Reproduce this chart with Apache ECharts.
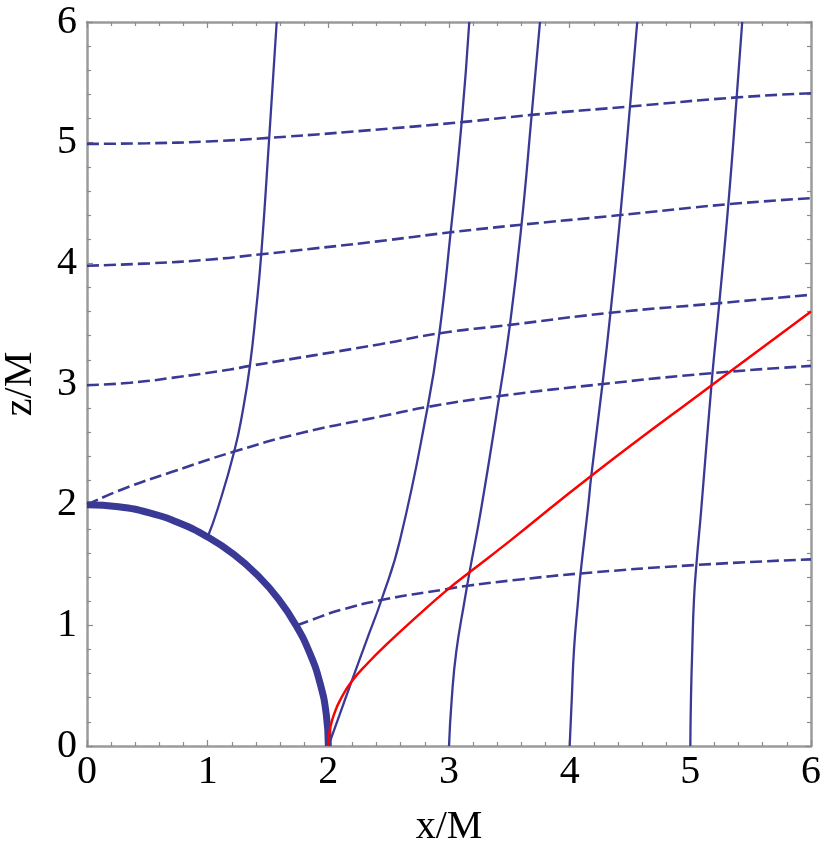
<!DOCTYPE html>
<html>
<head>
<meta charset="utf-8">
<script src="https://cdn.jsdelivr.net/npm/echarts@6/dist/echarts.min.js"></script>
<style>html,body{margin:0;padding:0;background:#fff}#c{width:822px;height:854px}</style>
</head>
<body>
<div id="c"></div>
<script>
// Axis ticks
const xTicks = [0, 1, 2, 3, 4, 5, 6];
const zTicks = [0, 1, 2, 3, 4, 5, 6];

// Horizon (thick arc, radius 2)
const horizon = [[0,2],[0.261,1.983],[0.518,1.932],[0.765,1.848],[1.0,1.732],[1.218,1.587],[1.414,1.414],[1.587,1.218],[1.732,1.0],[1.848,0.765],[1.932,0.518],[1.983,0.261],[2,0]];

// Solid curves
const solidA = [[1.0,1.732],[1.08,1.956],[1.22,2.44],[1.295,2.8],[1.35,3.15],[1.40,3.6],[1.444,4.075],[1.51,5.04],[1.572,6]];
const solidB = [[2,0],[2.09,0.25],[2.18,0.50],[2.318,0.878],[2.44,1.21],[2.594,1.707],[2.823,2.81],[2.92,3.42],[3.014,4.26],[3.105,5.17],[3.168,6]];
const solidC = [[3,0],[3.022,0.38],[3.06,0.78],[3.13,1.21],[3.17,1.44],[3.265,1.956],[3.417,2.90],[3.505,3.49],[3.60,4.31],[3.685,5.23],[3.754,6]];
const solidD = [[4,0],[4.017,0.38],[4.036,0.80],[4.07,1.21],[4.09,1.43],[4.15,1.956],[4.18,2.246],[4.272,3.0],[4.338,3.59],[4.42,4.40],[4.50,5.30],[4.56,6]];
const solidE = [[5,0],[5.005,0.38],[5.016,0.80],[5.03,1.21],[5.05,1.50],[5.09,1.956],[5.18,3.05],[5.24,3.67],[5.315,4.49],[5.384,5.375],[5.43,6]];

// Dashed curves
const dashed1 = [[1.74,1.0],[1.93,1.07],[2.1,1.127],[2.44,1.21],[2.98,1.30],[3.17,1.33],[3.59,1.38],[4.09,1.43],[5.047,1.50],[6,1.547]];
const dashed2 = [[0,2.0],[0.3,2.13],[0.7,2.27],[1.22,2.44],[1.8,2.6],[2.43,2.73],[2.823,2.81],[3.417,2.90],[4.276,3.0],[5.18,3.09],[6,3.15]];
const dashed3 = [[0,2.99],[0.356,3.01],[0.77,3.06],[1.185,3.12],[1.35,3.15],[2.43,3.33],[2.92,3.42],[3.505,3.49],[4.338,3.59],[5.24,3.67],[6,3.74]];
const dashed4 = [[0,3.98],[0.52,4.0],[1.0,4.03],[1.444,4.075],[1.765,4.11],[2.39,4.18],[3.014,4.257],[3.60,4.32],[4.42,4.40],[5.315,4.49],[6,4.54]];
const dashed5 = [[0,4.99],[0.5,4.995],[1.0,5.01],[1.51,5.04],[2.3,5.10],[3.105,5.17],[3.685,5.23],[4.5,5.30],[5.384,5.375],[6,5.41]];

// Red curve
const redCurve = [[2.0,0],[2.005,0.08],[2.02,0.17],[2.05,0.27],[2.1,0.385],[2.19,0.53],[2.33,0.69],[2.48,0.84],[2.73,1.07],[2.98,1.29],[3.17,1.44],[3.505,1.70],[4.18,2.24],[5.177,2.99],[6,3.6]];

const BLUE = '#3a3a96';
const FONT = "'Liberation Serif','Times New Roman',serif";

const chart = echarts.init(document.getElementById('c'), null, {renderer:'canvas'});

function baseAxis(ticks) {
  return {
    type: 'value',
    min: ticks[0], max: ticks[ticks.length-1], interval: ticks[1]-ticks[0],
    axisLine: {show:true, onZero:false, lineStyle:{color:'#9b9b9b', width:2.5}},
    axisTick: {show:true, inside:true, length:6, lineStyle:{color:'#8a8a8a', width:1.2}},
    minorTick: {show:true, splitNumber:5, length:4, lineStyle:{color:'#8a8a8a', width:1.2}},
    splitLine: {show:false},
    minorSplitLine: {show:false}
  };
}

const solidStyle = {color:BLUE, width:2.3};
const dashStyle = {color:BLUE, width:2.6, type:[12,5]};

function line(data, style, z) {
  return {type:'line', data:data, smooth:true, showSymbol:false, symbol:'none',
          lineStyle:style, itemStyle:{color:style.color}, z:z, silent:true, clip:true};
}

const option = {
  animation: false,
  backgroundColor: '#fff',
  grid: {left:87, right:11, top:22, bottom:108, containLabel:false, outerBoundsMode:'none'},
  xAxis: [
    Object.assign(baseAxis(xTicks), {
      position:'bottom',
      axisLabel:{show:true, fontSize:40, fontFamily:FONT, color:'#000', margin:6,
        formatter: v => String(v)},
      name:'x/M', nameLocation:'middle', nameGap:61,
      nameTextStyle:{fontSize:40, fontFamily:FONT, color:'#000'}
    }),
    Object.assign(baseAxis(xTicks), {position:'top', axisLabel:{show:false}})
  ],
  yAxis: [
    Object.assign(baseAxis(zTicks), {
      position:'left',
      axisLabel:{show:true, fontSize:40, fontFamily:FONT, color:'#000', margin:10,
        formatter: v => String(v)},
      name:'z/M', nameLocation:'middle', nameGap:47,
      nameTextStyle:{fontSize:40, fontFamily:FONT, color:'#000'}
    }),
    Object.assign(baseAxis(zTicks), {position:'right', axisLabel:{show:false}})
  ],
  series: [
    line(dashed1, dashStyle, 2),
    line(dashed2, dashStyle, 2),
    line(dashed3, dashStyle, 2),
    line(dashed4, dashStyle, 2),
    line(dashed5, dashStyle, 2),
    line(solidA, solidStyle, 3),
    line(solidB, solidStyle, 3),
    line(solidC, solidStyle, 3),
    line(solidD, solidStyle, 3),
    line(solidE, solidStyle, 3),
    line(horizon, {color:BLUE, width:7}, 4),
    line(redCurve, {color:'#ff0000', width:2.5}, 5)
  ]
};
chart.setOption(option);
</script>
</body>
</html>
